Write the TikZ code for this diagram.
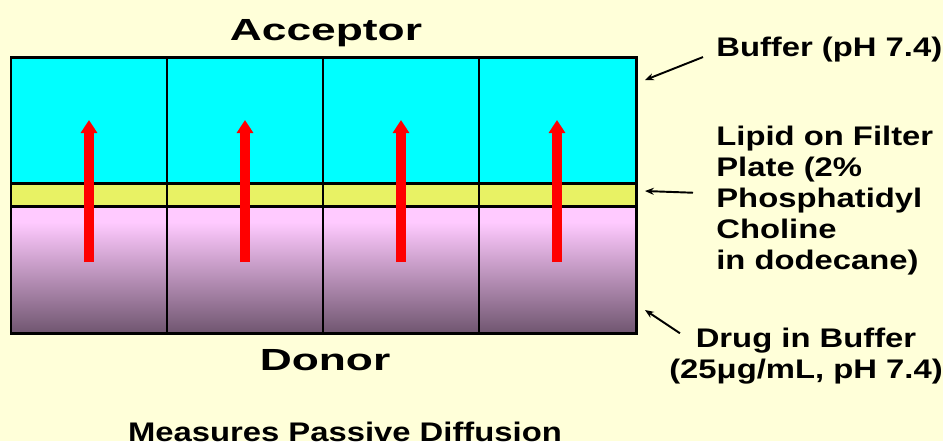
\documentclass[tikz,border=0pt]{standalone}
\usepackage{fontspec}
\setmainfont{Liberation Sans}[FakeStretch=1.22]
\newfontfamily\headingfont{Liberation Sans}[FakeStretch=1.45]
\usetikzlibrary{arrows.meta}
\definecolor{bgcolor}{RGB}{255,255,217}
\definecolor{acceptorcolor}{RGB}{0,255,255}
\definecolor{lipidcolor}{RGB}{232,242,100}
\definecolor{donortop}{RGB}{255,202,255}
\definecolor{donormid}{RGB}{195,152,195}
\definecolor{donorbottom}{RGB}{112,86,112}
\definecolor{fluxcolor}{RGB}{255,0,0}
\tikzset{
  heading/.style={font=\headingfont\fontsize{17.4}{20}\selectfont\bfseries, inner sep=0pt},
  note/.style={font=\fontsize{15.3}{17.6}\selectfont\bfseries, inner sep=0pt},
  pointer/.style={-{Stealth[length=5pt,width=4pt]}, line width=1.1pt},
  flux/.style={-{Triangle[length=7.4pt,width=9.1pt]}, line width=5.4pt, draw=fluxcolor},
  wall/.style={line width=1.7pt}
}

\begin{document}
\begin{tikzpicture}[x=0.02cm,y=-0.02cm]
    \useasboundingbox[fill=bgcolor] (0,0) rectangle (943,441);
    % layers of the plate
    \fill[acceptorcolor] (11,57) rectangle (636,183);
    \fill[lipidcolor] (11,183) rectangle (636,206);
    \fill[donortop] (11,206) rectangle (636,222);
    \shade[top color=donortop, middle color=donormid, bottom color=donorbottom] (11,222) rectangle (636,333);

    % wells
    \draw[wall] (11,57) rectangle (636,333);
    \draw[wall] (11,183) -- (636,183);
    \draw[wall] (11,206) -- (636,206);
    \draw[wall] (167,57) -- (167,333);
    \draw[wall] (323,57) -- (323,333);
    \draw[wall] (479,57) -- (479,333);

    % diffusion from donor to acceptor
    \coordinate (d1) at (89,262);  \coordinate (a1) at (89,120);
    \coordinate (d2) at (245,262); \coordinate (a2) at (245,120);
    \coordinate (d3) at (401,262); \coordinate (a3) at (401,120);
    \coordinate (d4) at (557,262); \coordinate (a4) at (557,120);
    \draw[flux] (d1) -- (a1);
    \draw[flux] (d2) -- (a2);
    \draw[flux] (d3) -- (a3);
    \draw[flux] (d4) -- (a4);

    \node[heading, anchor=base] (acceptor) at (326,40) {Acceptor};
    \node[heading, anchor=base] (donor) at (325,370) {Donor};
    \node[note, anchor=base] (passive) at (345,441) {Measures Passive Diffusion};

    % labels on the right
    \node[note, anchor=base west] (buffer) at (716,56) {Buffer (pH 7.4)};
    \node[note, anchor=north west, align=left] (lipid) at (716,126) {Lipid on Filter\\Plate (2\%\\Phosphatidyl\\Choline\\in dodecane)};
    \node[note, anchor=base, align=center] (drug) at (806,378) {Drug in Buffer\\(25μg/mL, pH 7.4)};

    \coordinate (acceptorside) at (645,80);
    \coordinate (lipidside) at (645,191);
    \coordinate (donorside) at (645,310);
    \draw[pointer] ([shift={(-13,8)}]buffer.west) -- (acceptorside);
    \draw[pointer] ([shift={(-23,-8)}]lipid.west) -- (lipidside);
    \draw[pointer] ([shift={(11,6)}]drug.north west) -- (donorside);
\end{tikzpicture}
\end{document}
